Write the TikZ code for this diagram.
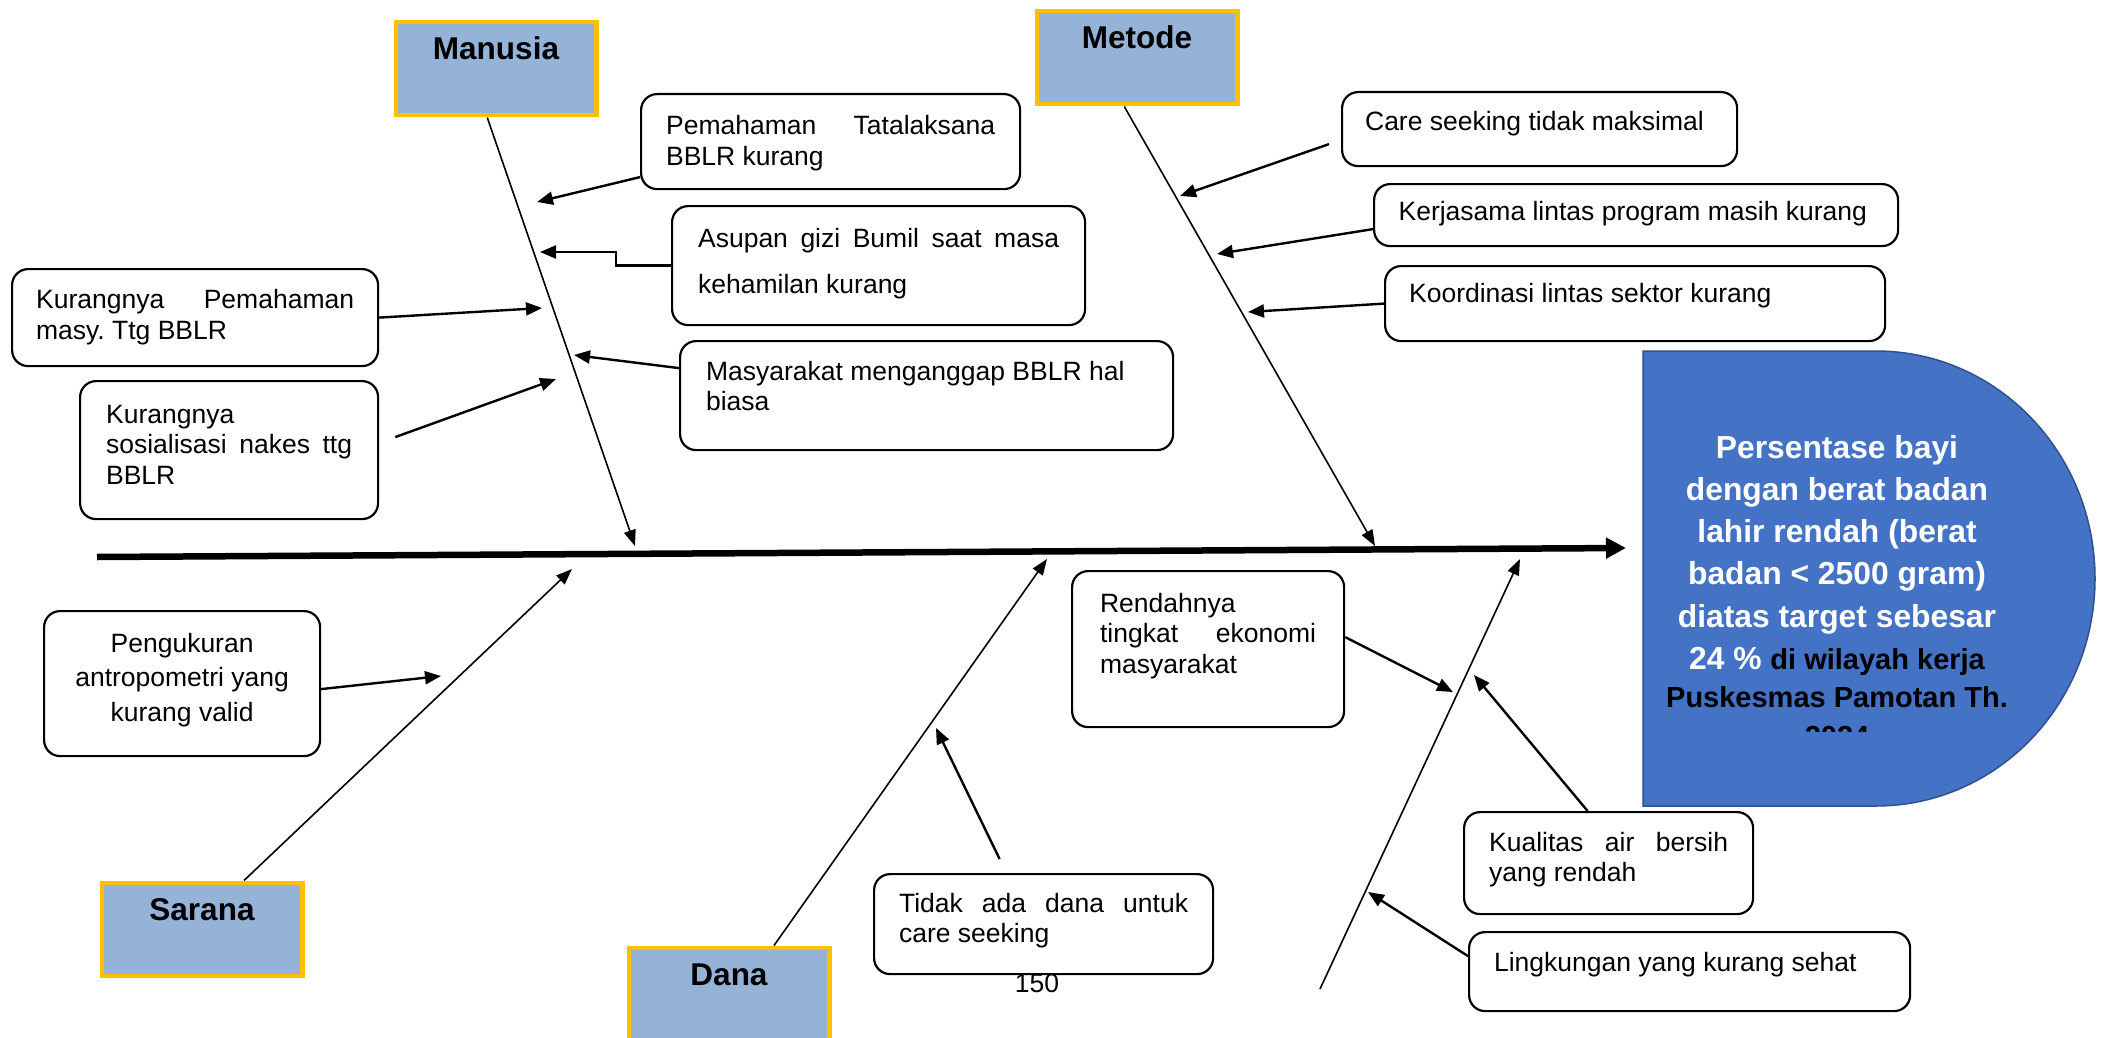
\documentclass[tikz,border=0pt]{standalone}
\usepackage{fontspec}
\setmainfont{Liberation Sans}
\usetikzlibrary{arrows.meta}
\frenchspacing
\definecolor{catfill}{HTML}{95B3D7}
\definecolor{catline}{HTML}{FFC000}
\definecolor{effblue}{HTML}{4472C4}
\definecolor{effline}{HTML}{2F528F}
% cause box text: width, height, text (optional baselineskip)
\newcommand\cbox[4][31pt]{\parbox[t][#3][t]{#2}{\fontsize{26.5pt}{#1}\selectfont\rule{0pt}{24pt}#4}}
% category box label (optional box height)
\newcommand\catbox[2][93pt]{\parbox[t][#1][t]{200.5pt}{\centering\fontsize{31.5pt}{36pt}\selectfont\bfseries\rule{0pt}{37.6pt}#2}}
\begin{document}
\begin{tikzpicture}[x=1pt,y=-1pt,
  cause/.style={draw, line width=2.2pt, rounded corners=16pt, fill=white, anchor=north west},
  cat/.style={draw=catline, fill=catfill, line width=4.5pt, anchor=north west, inner sep=0pt},
  bone/.style={line width=1.6pt, -{Triangle[length=16pt,width=12pt]}},
  branch/.style={line width=2.4pt, -{Triangle[length=16pt,width=13pt]}},
  spine/.style={line width=6.5pt, -{Triangle[length=20pt,width=20pt]}}]
\useasboundingbox (0,0) rectangle (2109,1038);

% effect shape
\path[draw=effline, fill=effblue, line width=1.5pt]
  (1643,351) -- (1876,351) arc[start angle=90, end angle=-90, x radius=219pt, y radius=227.5pt]
  -- (1643,806) -- cycle;
\begin{scope}
  \clip (1643,340) rectangle (2100,731);
  \node[anchor=north, inner sep=0pt, text=white] (effect) at (1837,428)
    {\parbox[t]{440pt}{\centering\fontsize{31.8pt}{42.2pt}\selectfont\bfseries\rule{0pt}{30pt}Persentase bayi\\
     dengan berat badan\\lahir rendah (berat\\badan < 2500 gram)\\diatas target sebesar\\
     24 \% {\fontsize{29pt}{38pt}\selectfont\color{black}di wilayah kerja}\\[-3.8pt]
     {\fontsize{29pt}{38pt}\selectfont\color{black}Puskesmas Pamotan Th.}\\[-3.8pt]
     {\fontsize{29pt}{38pt}\selectfont\color{black}2024}}};
\end{scope}

% category boxes
\node[cat] (manusia) at (393.5,20) {\catbox{Manusia}};
\node[cat] (metode) at (1034.5,9) {\catbox{Metode}};
\node[cat] (sarana) at (99.5,880.5) {\catbox{Sarana}};
\node[cat] (dana) at (626.5,945.5) {\catbox[110pt]{Dana}};

% cause boxes
\node[cause, inner xsep=25pt, inner ysep=16pt] (pt) at (640,93)
  {\cbox{329pt}{63pt}{Pemahaman\hfill Tatalaksana\\BBLR kurang}};
\node[cause, inner xsep=26pt, inner ysep=17pt] (as) at (671,205)
  {\cbox[46pt]{361pt}{85pt}{Asupan\hfill gizi\hfill Bumil\hfill saat\hfill masa\\kehamilan kurang}};
\node[cause, inner xsep=24pt, inner ysep=15pt] (kp) at (11,268)
  {\cbox{318pt}{67pt}{Kurangnya\hfill Pemahaman\\masy. Ttg BBLR}};
\node[cause, inner xsep=26pt, inner ysep=18pt] (ks) at (79,380)
  {\cbox[30.5pt]{246pt}{102pt}{Kurangnya\\sosialisasi\hfill nakes\hfill ttg\\BBLR}};
\node[cause, inner xsep=26pt, inner ysep=15.5pt] (masy) at (679,340)
  {\cbox[30pt]{441pt}{78pt}{Masyarakat menganggap BBLR hal\\biasa}};
\node[cause, inner xsep=23pt, inner ysep=14pt] (care) at (1341,91)
  {\cbox{349pt}{46pt}{Care seeking tidak maksimal}};
\node[cause, inner xsep=24.5pt, inner ysep=12.6pt] (kerja) at (1373,183)
  {\cbox{475pt}{36.8pt}{Kerjasama lintas program masih kurang}};
\node[cause, inner xsep=24pt, inner ysep=12.7pt] (koord) at (1384,265)
  {\cbox{452pt}{49.6pt}{Koordinasi lintas sektor kurang}};
\node[cause, inner xsep=10pt, inner ysep=17.5pt] (peng) at (43,610)
  {\cbox[34.3pt]{256pt}{110pt}{\centering Pengukuran\\antropometri yang\\kurang valid}};
\node[cause, inner xsep=28pt, inner ysep=17pt] (rendah) at (1071,570)
  {\cbox[30.5pt]{216pt}{122pt}{Rendahnya\\tingkat\hfill ekonomi\\masyarakat}};
\node[cause, inner xsep=25pt, inner ysep=14.5pt] (tidak) at (873,873)
  {\cbox[30pt]{289pt}{71pt}{Tidak\hfill ada\hfill dana\hfill untuk\\care seeking}};
\node[cause, inner xsep=25pt, inner ysep=15pt] (kual) at (1463,811)
  {\cbox[30pt]{239pt}{72pt}{Kualitas\hfill air\hfill bersih\\yang rendah}};
\node[cause, inner xsep=25pt, inner ysep=15pt] (ling) at (1468,931)
  {\cbox{391pt}{49pt}{Lingkungan yang kurang sehat}};

% page number
\node[anchor=base, inner sep=0pt, font=\fontsize{26.5pt}{31pt}\selectfont] (page) at (1037,992.5) {150};

% points on the spine and bones
\coordinate (spL) at (97,557);
\coordinate (spR) at (1626,548);
\coordinate (mtip) at (635,546);
\coordinate (metip) at (1375,546);
\coordinate (stip) at (572,569);
\coordinate (dtip) at (1047,559);
\coordinate (ltip) at (1520,559);
\coordinate (ltail) at (1320,989);

\coordinate (pttip) at (537,202);
\coordinate (astip) at (540,252);
\coordinate (kptip) at (542,308);
\coordinate (kstip) at (556,379);
\coordinate (masytip) at (574,355);
\coordinate (caretip) at (1180,196);
\coordinate (kerjatip) at (1217,254);
\coordinate (koordtip) at (1248,312);
\coordinate (pengtip) at (441,676);
\coordinate (tidaktip) at (936,728);
\coordinate (rendahtip) at (1453,692);
\coordinate (kualtip) at (1474,675);
\coordinate (lingtip) at (1368,892);

% spine
\draw[spine] (spL) -- (spR);

% bones
\draw[bone] ([xshift=-8.75pt]manusia.south) -- (mtip);
\draw[bone] ([xshift=-12.75pt]metode.south) -- (metip);
\draw[bone] ([xshift=42pt]sarana.north) -- (stip);
\draw[bone] ([xshift=45pt]dana.north) -- (dtip);
\draw[bone] (ltail) -- (ltip);

% branches
\draw[branch] ([yshift=-35.5pt]pt.west) -- (pttip);
\draw[branch] (as.west) -- ++(-55,0) |- (astip);
\draw[branch] (kp.east) -- (kptip);
\draw[branch] ([xshift=16pt,yshift=13pt]ks.east) -- (kstip);
\draw[branch] ([yshift=27.5pt]masy.west) -- (masytip);
\draw[branch] ([xshift=-12pt,yshift=-15pt]care.west) -- (caretip);
\draw[branch] ([yshift=-14pt]kerja.west) -- (kerjatip);
\draw[branch] (koord.west) -- (koordtip);
\draw[branch] ([yshift=-5.5pt]peng.east) -- (pengtip);
\draw[branch] ([xshift=-44pt,yshift=14pt]tidak.north) -- (tidaktip);
\draw[branch] ([yshift=12pt]rendah.east) -- (rendahtip);
\draw[branch] ([xshift=-21pt]kual.north) -- (kualtip);
\draw[branch] ([yshift=15.5pt]ling.west) -- (lingtip);
\end{tikzpicture}
\end{document}
